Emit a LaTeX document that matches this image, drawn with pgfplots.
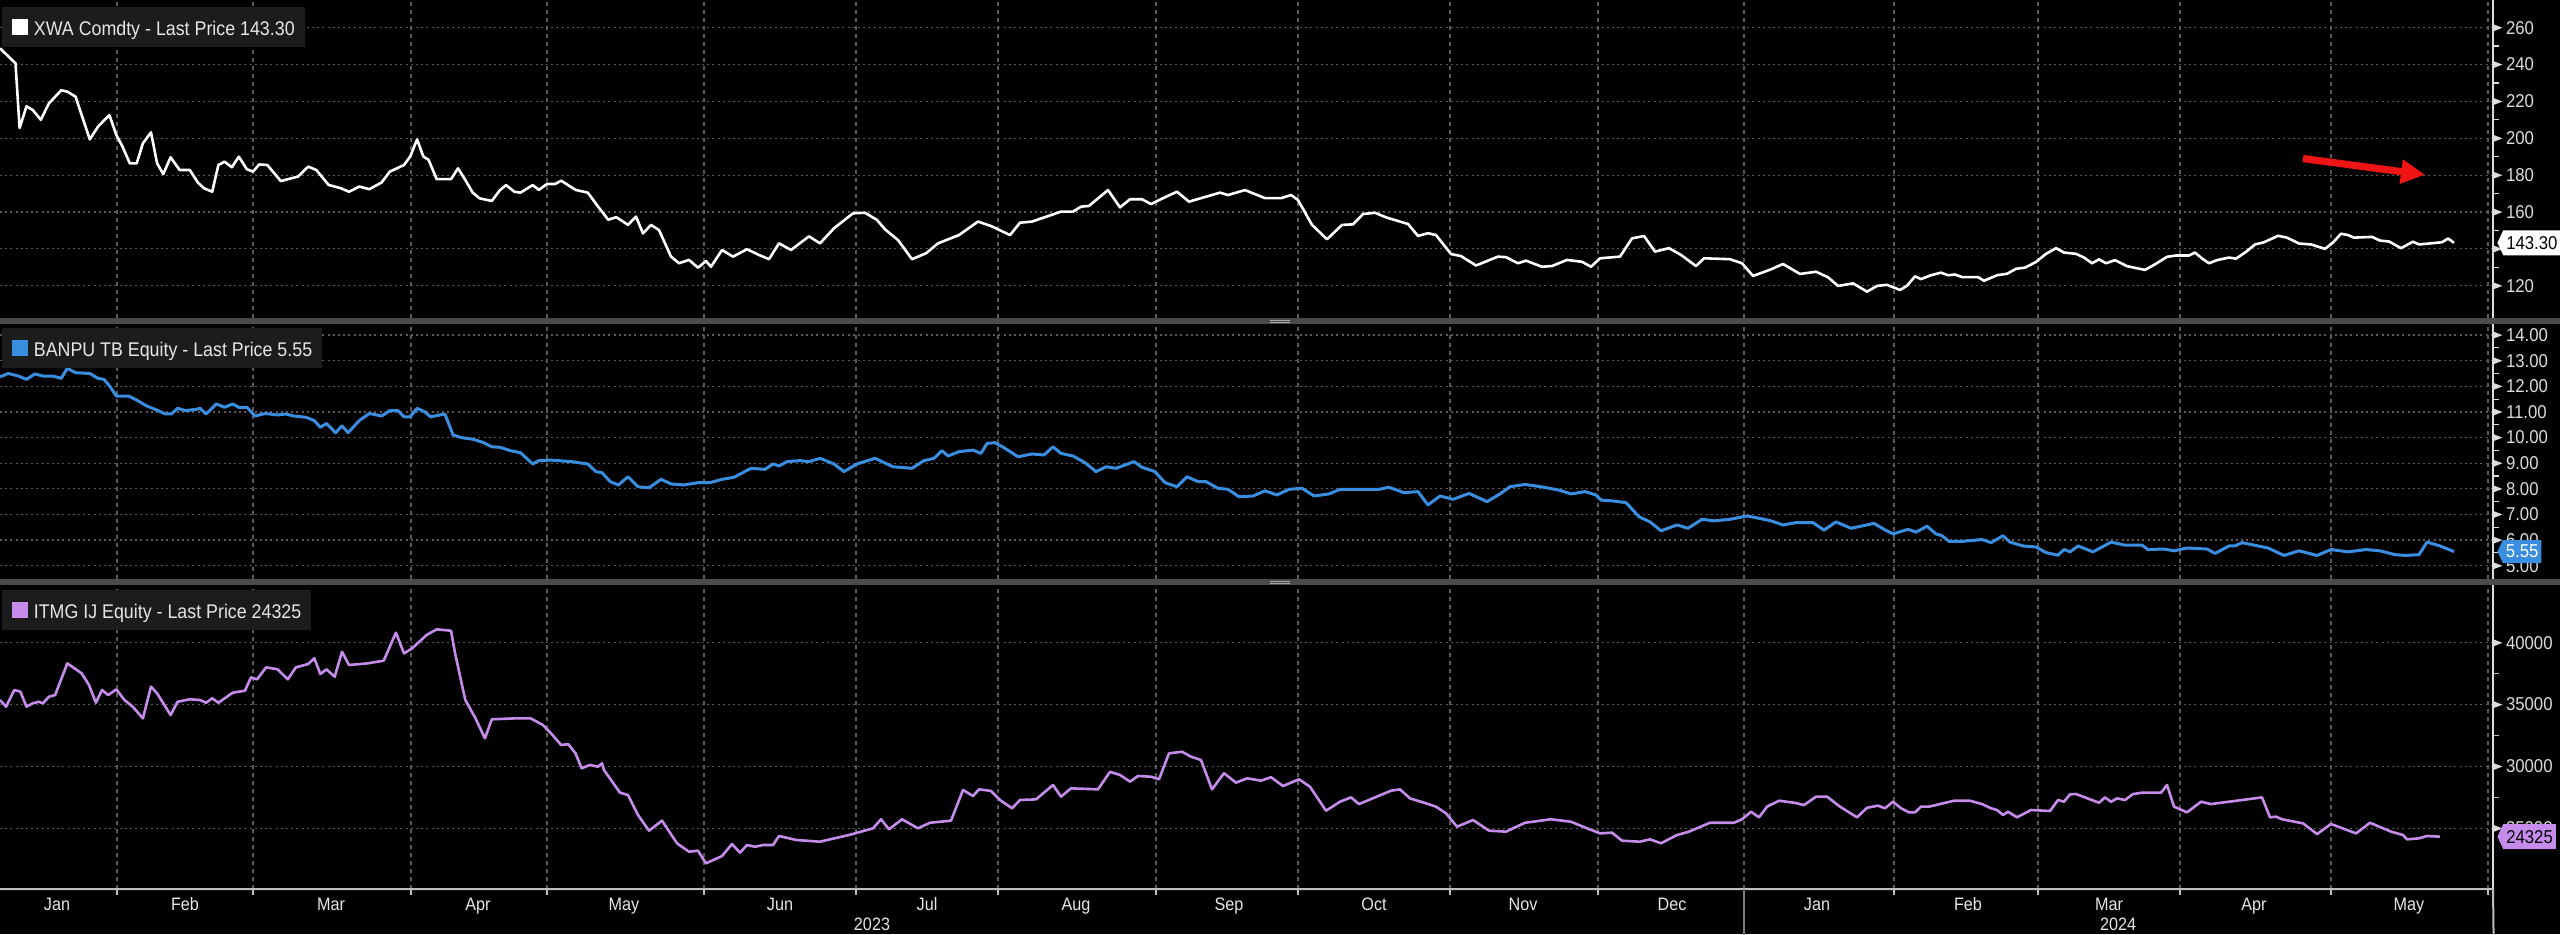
\documentclass[border=0pt]{standalone}
\usepackage{fontspec}
\setmainfont{Liberation Sans}[FakeStretch=0.9]
\usepackage{pgfplots}
\pgfplotsset{compat=1.18}
\usetikzlibrary{arrows.meta,shapes.symbols}

\definecolor{gridc}{HTML}{5A5A5A}
\definecolor{sepc}{HTML}{4B4B4B}
\definecolor{legbg}{HTML}{1C1C1C}
\definecolor{tickc}{HTML}{DCDCDC}
\definecolor{labc}{HTML}{E6E6E6}
\definecolor{botline}{HTML}{BEBEBE}
\definecolor{xwa}{HTML}{FFFFFF}
\definecolor{banpu}{HTML}{3A8EE0}
\definecolor{itmg}{HTML}{C68CEB}
\definecolor{arrowred}{HTML}{F01414}

\newcommand{\tickfont}{\fontsize{9.3}{11}\selectfont}
\newcommand{\legfont}{\fontsize{9.9}{12}\selectfont}
\newcommand{\monthfont}{\fontsize{9}{11}\selectfont}
\newcommand{\tri}{\raisebox{1.4pt}{\tikz\fill[tickc] (0,0) -- (4.5pt,1.75pt) -- (0,3.5pt) -- cycle;}}

\tikzset{
  leg/.style={anchor=north west, fill=legbg, inner xsep=5pt, inner ysep=4pt,
    text height=10pt, text depth=2pt, font=\legfont, text=labc},
  tag/.style={signal, signal to=west, signal pointer angle=130, anchor=west,
    inner xsep=1.5pt, inner ysep=0pt, minimum height=12.5pt, font=\tickfont, xshift=2pt},
}

\pgfplotsset{
  panel/.style={
    scale only axis, width=1246.5pt,
    xmin=0, xmax=2493,
    axis line style={draw=none},
    clip mode=individual,
    xtick={57,185,331,478,624,780,927,1076,1229,1374,1523,1672,1817,1968,2109,2254,2409},
    xticklabels={},
    minor xtick={117,253,411,547,704,856,998,1156,1298,1450,1598,1744,1894,2038,2180,2331,2488},
    xminorgrids=true, ymajorgrids=true,
    minor y tick num=1,
    xtick pos=left, ytick pos=right,
    tick align=outside,
    major tick length=0pt, minor tick length=3pt,
    minor tick style={tickc, line width=0.6pt},
    major grid style={gridc, line width=0.6pt, dash pattern=on 1pt off 1.6pt},
    minor grid style={gridc, line width=0.6pt, dash pattern=on 2pt off 2pt},
    yticklabel={\tri\hspace{1.8pt}\pgfmathprintnumber{\tick}},
    yticklabel style={anchor=west, inner xsep=0pt, font=\tickfont, text=tickc},
    scaled y ticks=false,
    /pgf/number format/assume math mode=true,
  },
}

\begin{document}
\begin{tikzpicture}
\path[fill=black, use as bounding box] (0,0) rectangle (1280pt,-467pt);

% XWA Comdty
\begin{axis}[panel, at={(0pt,0pt)}, anchor=north west, height=159pt,
  ymin=102.5, ymax=275, ytick={120,140,...,260}]
\addplot[xwa, line width=1.3pt, line join=round] coordinates {
(0,248.8)(12,242.5)(15.5,240.7)(19.6,205.6)(26.5,217.3)(32.7,215.4)(40.8,210)(49,219)(61.2,226)(67.3,225.3)
(75.5,222.6)(89.8,199.4)(98,206.3)(109.4,212.6)(116.3,201.8)(122.4,195.6)(129.8,186.4)(136.7,186.4)(142.9,197.3)
(151,203.2)(157.1,186.4)(163.3,180.6)(170.6,189.7)(179.6,182.8)(189.8,182.8)(198,175.9)(204,172.9)(212.2,171)
(218.4,185.5)(224.5,187.3)(231.8,184.3)(238.8,190)(246.9,183.2)(253,181.9)(259.2,185.8)(267.3,185.5)(280.8,176.8)
(298,179.2)(308.2,184.6)(316.3,182.8)(328.6,174.7)(340.8,172.9)(349,171)(359.2,173.8)(369.4,172.4)(381.6,176)
(389.8,181.9)(404,185.5)(410.2,190.1)(417.1,199.4)(423.3,190.1)(428.6,188.3)(436.7,177.8)(451,177.8)(458,183.7)
(465.3,177.4)(472.7,170.5)(479.6,167.4)(491.8,166)(500,171.9)(506.1,174.6)(514.3,171)(520.4,170.5)(532.7,174.6)
(538.8,172)(547,175.2)(555.1,175.2)(561.2,177)(575.5,172)(587.8,170.5)(598,163)(608.2,155.8)(616.3,157.2)
(628,153)(636,157.5)(643,148.4)(651,153)(659,150.2)(671,135.8)(679,132.2)(689,134)(698,129.8)(706,133.4)
(711,130.3)(722,139.4)(733,135.8)(747,139.8)(759,136.7)(769,134.4)(779,143)(791,139.4)(809,146.8)(820,143)
(834,151.2)(853,159.3)(865,159.6)(877,155.7)(885,150.6)(898,144.8)(912,134.4)(926,137.6)(938,143)(959,147.5)
(978,154.8)(991,152.4)(1010,147.5)(1020,154.2)(1032,154.8)(1061,160.2)(1073,160.2)(1081,162.9)(1089,163.3)
(1108,171.9)(1120,162.5)(1130,166.9)(1142,166.9)(1151,164.3)(1163,167.5)(1177,171)(1189,165.6)(1206,168.3)
(1220,170.5)(1228,169.2)(1245,171.9)(1265,167.5)(1281,167.5)(1291,169.2)(1298,166.5)(1312,153)(1327,145.2)
(1342,153)(1353,153.3)(1363,158.9)(1375,159.6)(1386,157.1)(1400,154.8)(1408,153.5)(1418,147)(1428,148.5)
(1436,147.5)(1451,137.2)(1461,136.1)(1476,131)(1498,135.8)(1506,135.5)(1518,132.2)(1526,133.6)(1542,130.3)
(1552,130.7)(1567,134)(1582,133)(1591,130.3)(1600,134.9)(1620,135.8)(1632,145.7)(1644,147)(1655,138.5)
(1669,140.4)(1681,136.7)(1696,130.7)(1704,134.9)(1730,134.4)(1742,132.2)(1753,125.3)(1771,128.9)(1783,131.8)
(1800,126.4)(1816,127.6)(1828,124.6)(1838,119.9)(1853,121.3)(1867,116.8)(1877,119.9)(1887,120.5)(1900,117.7)
(1907,120)(1915,125.1)(1921,123.6)(1931,125.7)(1941,127.1)(1948,125.7)(1955,126.1)(1962,124.7)(1978,124.7)
(1984,122.7)(1997,125.7)(2007,126.5)(2016,129.2)(2025,129.8)(2036,132.9)(2046,137.3)(2056,140.4)(2064,138)
(2076,137.3)(2084,135.3)(2092,132.2)(2099,134.3)(2106,132.2)(2115,133.9)(2127,130.6)(2145,128.6)(2154,131.3)
(2167,135.7)(2176,136.4)(2189,136.4)(2195,138)(2202,134.8)(2209,132.2)(2217,133.9)(2229,135.3)(2236,134.7)
(2246,138.4)(2255,142.4)(2264,143.6)(2278,147.1)(2287,146.1)(2299,142.9)(2311,142.4)(2325,140)(2333,143.5)
(2341,148.2)(2348,147.5)(2354,146.1)(2372,146.5)(2380,144.5)(2389,144)(2401,140.4)(2413,143.9)(2419,142.4)
(2429,142.9)(2442,143.6)(2448,145.6)(2454,143.3)
};
\draw[tickc, line width=0.7pt] (rel axis cs:1,0) -- (rel axis cs:1,1);
\node[leg, xshift=1pt, yshift=-3.5pt] at (rel axis cs:0,1)
  {\textcolor{xwa}{\rule{8pt}{8pt}}\hspace{2.75pt}XWA Comdty - Last Price 143.30};
\draw[arrowred, line width=3.6pt, -{Triangle[length=12pt,width=11.5pt]}]
  (axis cs:2303,189.0) -- (axis cs:2425,180.2);
\node[tag, fill=white, text=black] at (axis cs:2493,143.3) {143.30};
\end{axis}

% BANPU TB Equity
\begin{axis}[panel, at={(0pt,-162pt)}, anchor=north west, height=127.5pt,
  ymin=4.48, ymax=14.43, ytick={5,6,...,14},
  yticklabel style={/pgf/number format/.cd, fixed, fixed zerofill, precision=2}]
\addplot[banpu, line width=1.5pt, line join=round] coordinates {
(0,12.37)(8.2,12.5)(18.4,12.4)(26.5,12.27)(34.7,12.48)(42.9,12.4)(53,12.4)(61.2,12.31)(67.3,12.7)(75.5,12.53)
(89.8,12.5)(98,12.31)(104,12.27)(110.2,11.98)(116.3,11.62)(128.6,11.62)(136.7,11.46)(146.9,11.23)(157.1,11.07)
(165.3,10.92)(171.4,10.92)(177.6,11.14)(185.7,11.05)(195.9,11.1)(200,11.14)(206.1,10.92)(216.3,11.31)(224.5,11.18)
(232.7,11.31)(238.8,11.18)(246.9,11.18)(255.1,10.84)(265.3,10.94)(277.6,10.88)(285.7,10.92)(293.9,10.84)
(306.1,10.79)(314.3,10.66)(320.4,10.4)(326.5,10.55)(335.5,10.19)(342,10.45)(348.2,10.19)(359.2,10.66)(369.4,10.94)
(381.6,10.84)(389.8,11.05)(398,11.05)(404,10.81)(410.2,10.81)(417.1,11.14)(424.5,11.01)(430.6,10.81)(444.9,10.92)
(453.1,10.1)(461.2,10)(473.5,9.93)(483.7,9.8)(491.8,9.64)(500,9.62)(510.2,9.49)(520.4,9.41)(532.7,8.97)(538.8,9.1)
(551,9.12)(571.4,9.06)(587.8,8.97)(595.9,8.67)(602,8.63)(610.2,8.28)(618.4,8.15)(628,8.47)(638,8.08)(649,8.04)
(661,8.37)(671,8.19)(684,8.15)(698,8.24)(710,8.24)(722,8.37)(734,8.45)(751,8.8)(765,8.76)(773,8.97)(779,8.89)
(787,9.06)(800,9.1)(809,9.06)(820,9.19)(834,8.97)(844,8.67)(857,8.97)(875,9.19)(893,8.86)(912,8.8)(924,9.1)
(934,9.19)(942,9.49)(948,9.28)(959,9.45)(973,9.51)(981,9.38)(987,9.77)(995,9.8)(1005,9.58)(1018,9.25)(1032,9.36)
(1044,9.32)(1053,9.64)(1061,9.38)(1073,9.28)(1085,9.02)(1096,8.67)(1106,8.86)(1116,8.8)(1134,9.06)(1142,8.84)
(1155,8.67)(1165,8.24)(1177,8.08)(1187,8.47)(1198,8.28)(1206,8.28)(1218,8.02)(1228,7.98)(1239,7.69)(1253,7.72)
(1265,7.92)(1277,7.76)(1289,7.98)(1302,8.02)(1314,7.72)(1329,7.8)(1340,7.98)(1355,7.98)(1379,7.98)(1389,8.06)
(1404,7.85)(1418,7.89)(1428,7.37)(1440,7.72)(1453,7.59)(1469,7.82)(1487,7.5)(1500,7.8)(1510,8.08)(1525,8.17)
(1541,8.08)(1559,7.95)(1571,7.8)(1585,7.89)(1596,7.76)(1601,7.56)(1612,7.53)(1626,7.46)(1639,6.91)(1650,6.71)
(1661,6.36)(1677,6.59)(1688,6.46)(1702,6.81)(1714,6.75)(1730,6.81)(1747,6.94)(1759,6.85)(1771,6.75)(1783,6.59)
(1796,6.68)(1813,6.68)(1824,6.39)(1836,6.71)(1851,6.46)(1874,6.65)(1884,6.42)(1893,6.24)(1908,6.42)(1916,6.31)
(1927,6.54)(1936,6.24)(1942,6.17)(1949,5.95)(1962,5.95)(1982,6.02)(1991,5.9)(2003,6.17)(2010,5.92)(2023,5.77)
(2036,5.73)(2046,5.51)(2058,5.41)(2064,5.63)(2070,5.54)(2078,5.77)(2093,5.54)(2111,5.92)(2125,5.8)(2142,5.8)
(2148,5.63)(2164,5.65)(2174,5.58)(2187,5.69)(2207,5.65)(2215,5.48)(2229,5.77)(2235,5.77)(2242,5.9)(2268,5.69)
(2284,5.4)(2299,5.58)(2317,5.4)(2331,5.63)(2348,5.54)(2366,5.63)(2380,5.58)(2395,5.43)(2405,5.4)(2419,5.43)
(2427,5.92)(2440,5.77)(2454,5.55)
};
\draw[tickc, line width=0.7pt] (rel axis cs:1,0) -- (rel axis cs:1,1);
\node[leg, xshift=1pt, yshift=-2pt] at (rel axis cs:0,1)
  {\textcolor{banpu}{\rule{8pt}{8pt}}\hspace{2.75pt}BANPU TB Equity - Last Price 5.55};
\node[tag, fill=banpu, text=white, minimum height=11.5pt] at (axis cs:2493,5.55) {5.55};
\end{axis}

% ITMG IJ Equity
\begin{axis}[panel, at={(0pt,-292.5pt)}, anchor=north west, height=152pt,
  ymin=20094, ymax=44663, ytick={25000,30000,35000,40000},
  yticklabel style={/pgf/number format/.cd, 1000 sep={}},
  xticklabels={Jan,Feb,Mar,Apr,May,Jun,Jul,Aug,Sep,Oct,Nov,Dec,Jan,Feb,Mar,Apr,May},
  xticklabel style={anchor=base, yshift=-10.5pt, font=\monthfont, text=labc},
  minor tick style={botline}]
\addplot[itmg, line width=1.3pt, line join=round] coordinates {
(0,35370)(6.1,34830)(14.3,36180)(20.4,36040)(26.5,34830)(32.7,35100)(38.8,35230)(42.9,35100)(49,35640)
(55.1,35770)(67.3,38330)(81.6,37530)(89,36580)(95.9,35150)(102,36180)(108.2,35770)(116.3,36230)(124.5,35370)
(132.7,34830)(142.9,33890)(151,36450)(157.1,35910)(170.6,34160)(177.6,35230)(189.8,35430)(200,35370)
(206.1,35150)(212.2,35510)(218.4,35150)(232.7,35960)(244.9,36120)(251,37200)(257.1,37040)(266.1,38010)
(277.6,37850)(287.8,37040)(295.9,38010)(308.2,38280)(314.3,38740)(320.4,37470)(326.5,37850)(334.7,37250)
(342,39270)(349,38200)(367.3,38330)(383.7,38550)(395.9,40810)(404,39140)(412.2,39550)(426.5,40620)
(436.7,41080)(451,40970)(455.1,39140)(465.3,35370)(475.5,33890)(484.9,32270)(491.8,33810)(516.3,33890)
(530.6,33890)(542.9,33350)(551,32680)(561.2,31730)(568.2,31810)(575.5,31060)(581.6,29850)(589.8,30120)
(598,29980)(602,30250)(604,29710)(620,27880)(628,27690)(638,26080)(649,24810)(662,25620)(677,23790)
(689,23110)(698,23190)(706,22170)(722,22760)(732,23730)(740,23030)(747,23650)(755,23510)(763,23650)
(773,23650)(779,24380)(796,24060)(820,23920)(849,24460)(873,25000)(881,25730)(889,24920)(902,25730)
(918,25000)(930,25450)(951,25620)(963,28100)(973,27610)(979,28150)(991,28020)(1000,27290)(1012,26620)
(1020,27290)(1036,27340)(1053,28500)(1061,27560)(1071,28230)(1098,28150)(1110,29570)(1120,29310)
(1130,28770)(1138,29230)(1151,29170)(1159,28960)(1169,31060)(1182,31190)(1191,30790)(1201,30520)
(1212,28150)(1224,29450)(1236,28690)(1247,29040)(1261,28850)(1271,29130)(1283,28420)(1299,28960)
(1310,28360)(1326,26420)(1340,27150)(1351,27500)(1359,26960)(1375,27500)(1391,28040)(1400,28150)
(1410,27420)(1424,27070)(1436,26750)(1446,26210)(1457,25130)(1473,25670)(1489,24810)(1506,24730)
(1525,25450)(1551,25730)(1571,25530)(1583,25130)(1600,24590)(1612,24650)(1622,24000)(1640,23920)
(1650,24110)(1661,23790)(1677,24460)(1689,24730)(1710,25450)(1734,25450)(1742,25730)(1751,26340)
(1759,25890)(1767,26750)(1779,27230)(1794,27070)(1804,26880)(1816,27560)(1827,27560)(1840,26750)
(1857,25890)(1867,26660)(1878,26830)(1885,26620)(1893,27150)(1901,26620)(1909,26290)(1915,26290)
(1921,26750)(1929,26750)(1954,27230)(1970,27230)(1982,26960)(1991,26620)(1997,26480)(2003,26080)
(2008,26340)(2017,25890)(2031,26480)(2050,26400)(2058,27290)(2064,27150)(2070,27750)(2076,27770)
(2099,27070)(2105,27500)(2111,27150)(2117,27420)(2125,27290)(2133,27770)(2142,27880)(2161,27880)
(2167,28500)(2174,26750)(2187,26290)(2201,27150)(2211,26960)(2262,27500)(2270,25890)(2276,25940)
(2282,25730)(2303,25400)(2317,24540)(2331,25350)(2356,24590)(2370,25450)(2391,24730)(2403,24460)
(2407,24110)(2419,24190)(2427,24380)(2440,24325)
};
\draw[tickc, line width=0.7pt] (rel axis cs:1,0) -- (rel axis cs:1,1);
\draw[botline, line width=1pt] (rel axis cs:0,0) -- (rel axis cs:1,0) -- ++(1.5pt,0);
\draw[gridc!80!white, line width=0.6pt] (axis cs:1744,20094) -- ++(0,-22.5pt);
\node[anchor=base, font=\monthfont, text=labc, yshift=-20.5pt] at (axis cs:872,20094) {2023};
\node[anchor=base, font=\monthfont, text=labc, yshift=-20.5pt] at (axis cs:2118,20094) {2024};
\node[leg, xshift=1pt, yshift=-2.5pt] at (rel axis cs:0,1)
  {\textcolor{itmg}{\rule{8pt}{8pt}}\hspace{2.75pt}ITMG IJ Equity - Last Price 24325};
\node[tag, fill=itmg, text=black] at (axis cs:2493,24325) {24325};
\end{axis}

% panel separators
\fill[sepc] (0pt,-159pt) rectangle (1280pt,-162pt);
\fill[sepc] (0pt,-289.5pt) rectangle (1280pt,-292.5pt);
\fill[gray!70] (635pt,-160.1pt) rectangle (645pt,-160.6pt);
\fill[gray!70] (635pt,-161pt) rectangle (645pt,-161.5pt);
\fill[gray!70] (635pt,-290.6pt) rectangle (645pt,-291.1pt);
\fill[gray!70] (635pt,-291.5pt) rectangle (645pt,-292pt);
\end{tikzpicture}
\end{document}
